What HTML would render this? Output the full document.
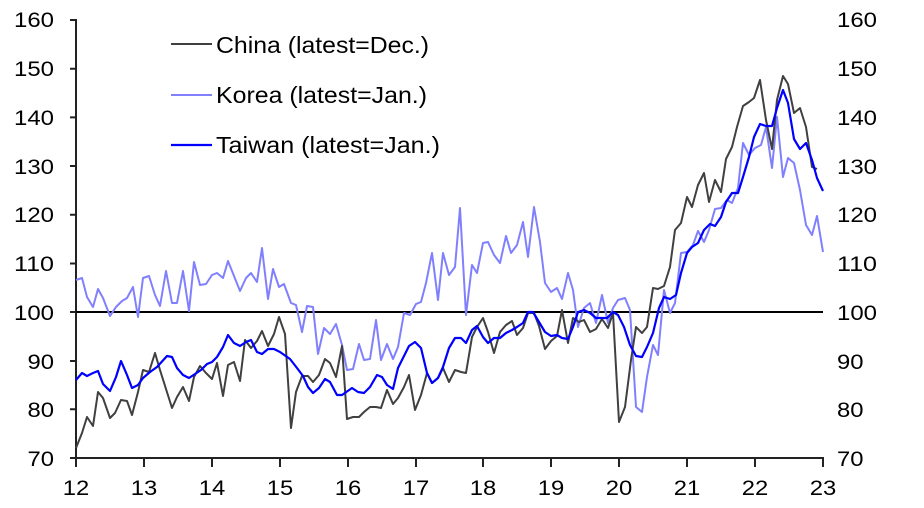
<!DOCTYPE html>
<html><head><meta charset="utf-8"><style>
html,body{margin:0;padding:0;background:#fff;}
svg{display:block;font-family:"Liberation Sans",Arial,sans-serif;}
</style></head><body>
<svg width="924" height="508" viewBox="0 0 924 508" xmlns="http://www.w3.org/2000/svg">
<g font-size="21" fill="#000" lengthAdjust="spacingAndGlyphs">
<g text-anchor="end">
<text x="54" y="27" textLength="40" lengthAdjust="spacingAndGlyphs">160</text><text x="54" y="76" textLength="40" lengthAdjust="spacingAndGlyphs">150</text><text x="54" y="125" textLength="40" lengthAdjust="spacingAndGlyphs">140</text><text x="54" y="174" textLength="40" lengthAdjust="spacingAndGlyphs">130</text><text x="54" y="222" textLength="40" lengthAdjust="spacingAndGlyphs">120</text><text x="54" y="271" textLength="40" lengthAdjust="spacingAndGlyphs">110</text><text x="54" y="320" textLength="40" lengthAdjust="spacingAndGlyphs">100</text><text x="54" y="369" textLength="26.5" lengthAdjust="spacingAndGlyphs">90</text><text x="54" y="417" textLength="26.5" lengthAdjust="spacingAndGlyphs">80</text><text x="54" y="466" textLength="26.5" lengthAdjust="spacingAndGlyphs">70</text>
</g>
<g text-anchor="start">
<text x="837" y="27" textLength="40" lengthAdjust="spacingAndGlyphs">160</text><text x="837" y="76" textLength="40" lengthAdjust="spacingAndGlyphs">150</text><text x="837" y="125" textLength="40" lengthAdjust="spacingAndGlyphs">140</text><text x="837" y="174" textLength="40" lengthAdjust="spacingAndGlyphs">130</text><text x="837" y="222" textLength="40" lengthAdjust="spacingAndGlyphs">120</text><text x="837" y="271" textLength="40" lengthAdjust="spacingAndGlyphs">110</text><text x="837" y="320" textLength="40" lengthAdjust="spacingAndGlyphs">100</text><text x="837" y="369" textLength="26.5" lengthAdjust="spacingAndGlyphs">90</text><text x="837" y="417" textLength="26.5" lengthAdjust="spacingAndGlyphs">80</text><text x="837" y="466" textLength="26.5" lengthAdjust="spacingAndGlyphs">70</text>
</g>
<g text-anchor="middle">
<text x="76" y="495" textLength="26.5" lengthAdjust="spacingAndGlyphs">12</text><text x="144" y="495" textLength="26.5" lengthAdjust="spacingAndGlyphs">13</text><text x="212" y="495" textLength="26.5" lengthAdjust="spacingAndGlyphs">14</text><text x="280" y="495" textLength="26.5" lengthAdjust="spacingAndGlyphs">15</text><text x="348" y="495" textLength="26.5" lengthAdjust="spacingAndGlyphs">16</text><text x="416" y="495" textLength="26.5" lengthAdjust="spacingAndGlyphs">17</text><text x="483" y="495" textLength="26.5" lengthAdjust="spacingAndGlyphs">18</text><text x="551" y="495" textLength="26.5" lengthAdjust="spacingAndGlyphs">19</text><text x="619" y="495" textLength="26.5" lengthAdjust="spacingAndGlyphs">20</text><text x="687" y="495" textLength="26.5" lengthAdjust="spacingAndGlyphs">21</text><text x="755" y="495" textLength="26.5" lengthAdjust="spacingAndGlyphs">22</text><text x="823" y="495" textLength="26.5" lengthAdjust="spacingAndGlyphs">23</text>
</g>
</g>
<g stroke="#222" stroke-width="2" fill="none">
<line x1="76" y1="19" x2="76" y2="459"/>
<line x1="75" y1="458" x2="824" y2="458"/>
<path d="M70 20H76M70 68.7H76M70 117.4H76M70 166H76M70 214.8H76M70 263.5H76M70 312H76M70 361H76M70 409.3H76M70 458H76"/>
<path d="M76 458V467M144 458V467M212 458V467M280 458V467M348 458V467M416 458V467M483 458V467M551 458V467M619 458V467M687 458V467M755 458V467M823 458V467"/>
</g>
<line x1="76" y1="312" x2="823" y2="312" stroke="#000" stroke-width="2"/>
<polyline fill="none" stroke="#8080ff" stroke-width="2" stroke-linejoin="round" points="76,280 82,278 87,297 93,307 98,289 103,298 110,316 116,307 122,301 127,298 133,287 138,317 143,278 149,276 155,295 160,306 166,271 172,303 177,303 183,271 189,311 194,262 200,285 206,284 212,275 217,273 223,278 228,261 234,276 240,291 246,278 251,273 257,282 262,248 268,299 273,269 279,287 284,284 291,303 296,305 302,332 307,306 313,307 318,354 324,328 330,334 336,324 342,345 347,370 353,369 359,344 364,360 370,359 376,320 381,360 387,344 393,359 398,347 404,313 410,315 416,304 421,302 426,283 432,253 438,300 443,253 449,275 455,267 460,208 466,315 472,265 477,273 483,243 488,242 494,255 500,263 506,236 511,253 517,245 523,222 528,257 534,207 540,242 545,283 551,292 557,288 562,299 568,273 573,290 578,327 584,308 590,303 596,323 602,295 608,323 613,308 618,300 625,298 630,310 636,407 642,412 647,377 653,345 658,355 664,290 670,313 675,303 681,253 687,252 693,245 698,231 704,242 709,230 715,209 721,208 727,200 732,203 738,188 743,143 749,155 755,148 761,145 766,127 772,168 777,117 783,177 788,158 794,163 800,190 806,225 812,235 817,216 823,252"/>
<polyline fill="none" stroke="#404040" stroke-width="2" stroke-linejoin="round" points="76,448 82,433 87,417 93,426 98,392 103,398 110,418 115,413 121,400 127,401 132,415 138,392 143,370 149,372 155,353 160,370 166,389 172,408 177,397 183,387 189,401 194,377 200,366 206,373 212,379 217,363 223,396 228,365 234,362 240,381 245,340 251,348 257,341 262,331 268,346 274,334 279,317 285,334 291,428 296,392 302,376 308,376 313,382 319,375 325,359 330,363 336,377 342,346 347,419 353,417 359,417 364,412 370,407 376,407 381,408 387,390 393,404 398,398 404,387 409,375 415,410 421,395 427,373 432,383 438,378 443,368 449,382 455,370 461,372 466,373 472,337 477,327 483,318 488,332 494,353 500,332 506,325 512,321 517,335 523,328 528,313 534,313 539,326 545,349 551,341 557,336 562,310 568,343 573,318 579,322 584,320 590,332 596,329 602,319 608,328 613,313 619,422 625,407 631,360 636,327 642,333 647,327 653,288 658,289 664,286 670,267 675,230 681,223 687,197 692,207 698,185 704,173 709,202 715,180 721,192 726,159 732,147 737,127 743,106 749,102 754,98 760,80 766,120 772,149 777,100 783,76 788,84 794,113 800,108 806,127 812,167 817,169"/>
<polyline fill="none" stroke="#0000ff" stroke-width="2.2" stroke-linejoin="round" points="76,380 82,373 87,376 93,373 98,371 103,384 110,391 116,377 121,361 127,375 132,388 138,385 143,378 150,372 157,367 167,356 172,357 177,368 183,375 189,378 195,374 201,370 207,364 212,362 217,357 223,347 228,335 234,343 240,346 246,342 251,340 257,352 262,354 268,349 274,349 280,352 290,359 297,368 303,376 308,387 313,393 319,388 325,379 330,382 337,395 342,395 352,388 358,392 364,393 370,387 377,375 382,377 387,385 393,389 398,368 403,358 409,346 415,342 421,348 427,373 432,383 438,378 443,367 449,348 455,338 461,338 466,343 472,330 477,326 483,337 488,343 494,338 500,338 506,333 512,330 517,327 523,323 528,312 533,312 539,322 545,332 551,336 557,335 562,338 568,339 573,327 578,312 584,310 590,313 596,318 602,318 607,318 613,312 618,315 624,327 630,345 636,356 642,357 647,347 653,333 659,308 664,297 670,299 676,295 681,273 687,253 692,247 698,243 704,230 710,224 715,226 721,217 726,202 732,193 738,193 743,177 749,157 754,137 760,124 766,126 772,126 777,108 783,90 788,103 794,139 800,149 806,143 812,160 817,178 823,191"/>
<g font-size="23.5">
<line x1="171" y1="44" x2="212" y2="44" stroke="#404040" stroke-width="2"/>
<text x="216" y="53" textLength="213" lengthAdjust="spacingAndGlyphs">China (latest=Dec.)</text>
<line x1="171" y1="95" x2="212" y2="95" stroke="#8080ff" stroke-width="2"/>
<text x="216" y="103" textLength="211" lengthAdjust="spacingAndGlyphs">Korea (latest=Jan.)</text>
<line x1="171" y1="145" x2="212" y2="145" stroke="#0000ff" stroke-width="2.2"/>
<text x="216" y="153" textLength="224" lengthAdjust="spacingAndGlyphs">Taiwan (latest=Jan.)</text>
</g>
</svg>
</body></html>
